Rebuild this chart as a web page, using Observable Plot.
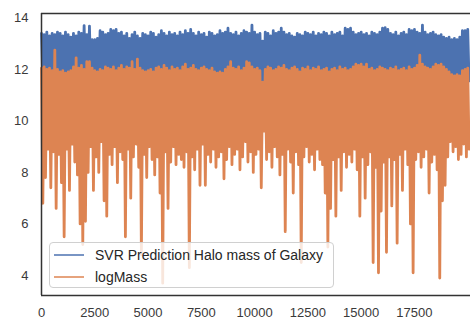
<!DOCTYPE html>
<html>
<head>
<meta charset="utf-8">
<script src="https://cdn.jsdelivr.net/npm/d3@7"></script>
<script src="https://cdn.jsdelivr.net/npm/@observablehq/plot@0.6"></script>
<style>
  html, body { margin: 0; padding: 0; background: #fff; }
  #wrap { position: relative; width: 470px; height: 323px; overflow: hidden; font-family: "Liberation Sans", Arial, sans-serif; }
  #legend { position: absolute; left: 49px; top: 242px; width: 285px; height: 46px; box-sizing: border-box;
            border: 1px solid #d0d0d0; border-radius: 4px; background: rgba(255,255,255,0.8);
            font-size: 14px; color: #262626; }
  .entry { position: absolute; left: 0; height: 20px; width: 100%; }
  .sw { position: absolute; left: 4px; top: 9px; width: 30px; height: 2px; }
  .lab { position: absolute; left: 45px; top: 1px; line-height: 18px; white-space: nowrap; }
</style>
</head>
<body>
<div id="wrap"></div>
<script>
// ---- data (binned every 125 samples) ----
const seriesNames = ["SVR Prediction Halo mass of Galaxy", "logMass"];
const seriesColors = ["#4c72b0", "#dd8452"];
const binWidth = 125;
const xTicks = [0, 2500, 5000, 7500, 10000, 12500, 15000, 17500];
const yTicks = [4, 6, 8, 10, 12, 14];

const svrHigh = [
13.4,13.35,13.45,13.3,13.4,13.35,13.45,13.4,13.3,13.45,
13.35,13.25,13.4,13.3,13.45,13.4,13.7,13.35,13.68,13.15,
13.15,13.2,13.5,13.45,13.35,13.4,13.55,13.5,13.55,13.4,
13.45,13.3,13.4,13.2,13.35,13.45,13.3,13.2,13.4,13.35,
13.3,13.45,13.4,13.25,13.35,13.5,13.4,13.3,13.45,13.35,
13.4,13.3,13.45,13.35,13.5,13.4,13.55,13.4,13.3,13.45,
13.35,13.4,13.25,13.45,13.4,13.3,13.35,13.5,13.4,13.45,
13.6,13.4,13.35,13.45,13.3,13.4,13.5,13.45,13.4,13.72,
13.45,13.35,13.4,13.1,13.45,13.4,13.3,13.5,13.4,13.45,
13.6,13.45,13.35,13.4,13.3,13.25,13.4,13.35,13.3,13.45,
13.4,13.35,13.45,13.3,13.4,13.35,13.45,13.4,13.3,13.45,
13.35,13.4,13.45,13.3,13.6,13.55,13.6,13.45,13.35,13.4,
13.45,13.35,13.4,13.3,13.45,13.4,13.35,13.45,13.6,13.62,
13.55,13.4,13.35,13.45,13.3,13.4,13.45,13.35,13.55,13.5,
13.55,13.45,13.4,13.72,13.45,13.35,13.4,13.45,13.35,13.3,
13.35,13.25,13.2,13.25,13.15,13.2,13.15,13.25,13.5,13.5,
13.55];

const svrLow = [
11.55,11.6,11.5,11.55,11.5,11.6,11.55,11.5,11.55,11.5,
11.55,11.6,11.5,11.55,11.6,11.5,11.55,11.6,11.55,11.5,
11.55,11.5,11.6,11.55,11.5,11.55,11.6,11.5,11.55,11.6,
11.5,11.55,11.6,11.5,11.55,11.6,11.5,11.55,11.5,11.55,
11.6,11.5,11.55,11.6,11.5,11.55,11.6,11.5,11.55,11.5,
11.55,11.6,11.5,11.55,11.6,11.5,11.55,11.6,11.5,11.55,
11.5,11.55,11.6,11.5,11.55,11.5,11.55,11.5,11.55,11.6,
11.5,11.55,11.6,11.5,11.55,11.6,11.5,11.55,11.6,11.5,
11.55,11.6,11.5,11.3,11.55,11.6,11.5,11.55,11.6,11.5,
11.55,11.6,11.5,11.55,11.6,11.5,11.55,11.5,11.55,11.6,
11.5,11.55,11.6,11.5,11.55,11.6,11.5,11.55,11.5,11.55,
11.6,11.5,11.55,11.6,11.5,11.55,11.6,11.5,11.55,11.6,
11.5,11.55,11.6,11.5,11.55,11.6,11.5,11.55,11.6,11.5,
11.55,11.6,11.5,11.55,11.6,11.5,11.55,11.6,11.5,11.55,
11.6,11.5,11.55,11.6,11.5,11.55,11.6,11.5,11.55,11.6,
11.5,11.55,11.5,11.55,11.5,11.45,11.5,11.45,11.55,11.6,
11.55];

const logMassHigh = [
12.05,12.1,12.0,12.05,11.95,12.75,12.0,11.9,11.95,11.85,
11.9,11.95,12.1,12.45,12.05,12.15,12.0,12.3,12.3,12.05,
11.95,11.9,12.0,11.95,12.1,12.05,12.0,12.1,11.95,12.05,
12.15,12.0,12.1,12.05,12.3,12.0,12.4,12.05,11.95,11.9,
11.95,12.0,11.9,12.05,12.1,12.0,12.15,12.05,11.95,12.1,
12.0,12.05,11.95,12.1,12.2,12.0,12.05,12.15,12.0,11.95,
12.05,12.1,12.0,11.95,12.05,11.9,11.85,11.9,11.85,12.0,
12.1,12.3,12.05,12.0,12.1,11.95,12.05,12.3,12.25,12.1,
12.0,12.05,11.95,11.5,12.0,12.1,12.05,11.95,12.0,12.1,
12.05,12.15,12.0,11.95,12.05,12.1,12.0,11.9,12.05,12.0,
12.1,11.95,12.05,12.0,12.1,11.95,12.0,12.05,11.9,12.0,
12.05,11.95,12.1,12.0,12.05,11.95,12.0,12.1,12.2,12.15,
12.2,12.1,12.2,12.0,12.05,11.95,12.0,12.1,12.05,12.0,
11.95,12.05,12.0,12.1,11.95,12.0,12.05,11.95,12.1,12.0,
12.05,12.15,12.55,12.2,12.1,12.05,12.0,12.1,12.2,12.15,
12.2,12.1,12.0,11.9,11.8,11.75,11.8,11.75,11.95,12.0,
12.05];

const logMassLow = [
6.8,7.8,8.9,7.4,8.8,6.6,8.7,7.6,5.5,8.9,
7.3,9.1,8.4,7.9,6.0,5.2,6.1,8.0,9.0,7.3,
8.6,8.0,9.2,6.9,6.3,8.7,8.3,9.0,7.6,8.8,
8.5,5.5,8.9,7.0,8.6,9.1,8.2,4.8,8.7,7.8,
9.0,8.5,7.9,8.6,7.2,3.7,8.8,6.6,8.4,9.0,
8.3,8.7,8.5,8.2,8.8,4.3,8.6,8.1,8.9,7.5,
9.1,7.5,8.7,8.4,8.9,8.2,8.6,8.8,7.75,8.5,
9.0,8.3,8.7,8.9,8.1,8.6,9.2,8.4,8.8,8.0,
8.7,8.9,7.4,9.6,8.5,8.8,8.2,9.0,8.6,7.9,
8.7,5.7,8.9,8.4,7.2,8.8,8.3,4.5,8.6,9.0,
8.4,8.7,8.1,8.9,8.5,8.3,7.2,5.1,6.6,8.5,
6.3,8.6,7.3,8.8,8.2,8.7,8.4,8.9,8.1,6.3,
8.6,7.0,8.3,8.8,4.5,8.2,4.1,6.5,8.4,4.9,
8.6,6.7,8.5,5.25,8.7,7.3,8.9,8.3,6.0,4.1,
8.5,8.8,8.2,8.6,8.9,7.2,8.4,8.7,8.1,3.9,
6.9,7.5,8.6,9.2,8.8,9.0,8.5,8.7,9.1,8.6,
8.9];

// ---- build line tables (each bin contributes its max then its min) ----
function zigzag(high, low) {
  const rows = [];
  for (let i = 0; i < high.length; i++) {
    rows.push({x: i * binWidth, y: high[i]});
    rows.push({x: i * binWidth + binWidth / 2, y: low[i]});
  }
  return rows;
}
const svrRows = zigzag(svrHigh, svrLow);
const massRows = zigzag(logMassHigh, logMassLow);

const xDomain = [0, 20130];
const yDomain = [3.22, 14.17];

const chart = Plot.plot({
  width: 470,
  height: 323,
  marginLeft: 41,
  marginRight: 0,
  marginTop: 13,
  marginBottom: 28,
  style: {fontFamily: "'Liberation Sans', Arial, sans-serif", fontSize: "13px", color: "#3a3a3a", background: "#fff"},
  x: {domain: xDomain, ticks: xTicks, tickFormat: d3.format("d"), tickSize: 0, tickPadding: 12, label: null},
  y: {domain: yDomain, ticks: yTicks, tickFormat: d3.format("d"), tickSize: 0, tickPadding: 13, label: null},
  marks: [
    Plot.line(svrRows, {x: "x", y: "y", stroke: seriesColors[0], strokeWidth: 2.8, strokeLinejoin: "round"}),
    Plot.line(massRows, {x: "x", y: "y", stroke: seriesColors[1], strokeWidth: 2.8, strokeLinejoin: "round"}),
    Plot.ruleX([xDomain[0]], {stroke: "#333", strokeWidth: 1.5}),
    Plot.ruleY(yDomain, {stroke: "#333", strokeWidth: 1.5})
  ]
});

const wrap = document.getElementById("wrap");
wrap.appendChild(chart);

const legend = document.createElement("div");
legend.id = "legend";
seriesNames.forEach((name, k) => {
  const e = document.createElement("div");
  e.className = "entry";
  e.style.top = (2 + k * 22) + "px";
  const sw = document.createElement("div");
  sw.className = "sw";
  sw.style.background = seriesColors[k];
  sw.style.opacity = "0.75";
  const lab = document.createElement("div");
  lab.className = "lab";
  lab.textContent = name;
  e.appendChild(sw);
  e.appendChild(lab);
  legend.appendChild(e);
});
wrap.appendChild(legend);
</script>
</body>
</html>
